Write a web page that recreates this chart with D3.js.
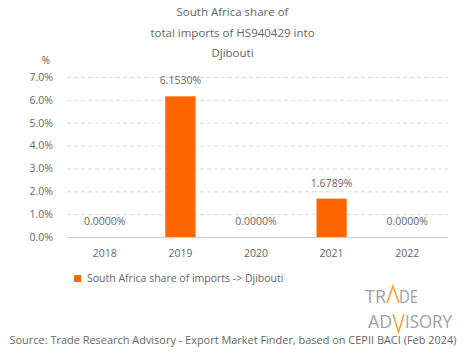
<!DOCTYPE html>
<html><head><meta charset="utf-8">
<script src="https://cdn.jsdelivr.net/npm/d3@7"></script>
<style>body{margin:0;background:#fff}svg{display:block}text{font-family:"Open Sans",sans-serif}</style>
</head><body><svg id="c" width="465" height="359"></svg>
<script>
const years = ["2018","2019","2020","2021","2022"];
const shares = [0, 6.1530, 0, 1.6789, 0];
const yTicks = [0,1,2,3,4,5,6,7];
const titleLines = ["South Africa share of","total imports of HS940429 into","Djibouti"];
const legendLabel = "South Africa share of imports -> Djibouti";
const sourceText = "Source: Trade Research Advisory - Export Market Finder, based on CEPII BACI (Feb 2024)";

const svg = d3.select("#c");
const orange = "#ff6600", txt = "#666";
const x = d3.scaleBand().domain(years).range([67,445]).paddingInner(0.6).paddingOuter(0.3);
const y = d3.scaleLinear().domain([0,7]).range([237,77]);

svg.selectAll(".t").data(titleLines).join("text")
  .attr("x",232.5).attr("y",(d,i)=>16+i*20.5).attr("text-anchor","middle")
  .attr("font-size",11.5).attr("fill",txt).text(d=>d);

svg.append("text").attr("x",46).attr("y",64).attr("text-anchor","middle").attr("font-size",10).attr("fill","#555").text("%");

const ya = svg.append("g").attr("transform","translate(67,0)")
  .call(d3.axisLeft(y).tickValues(yTicks).tickSize(-381).tickFormat(d=>d.toFixed(1)+"%"));
ya.select(".domain").remove();
ya.selectAll(".tick line").attr("stroke","#d9d9d9").attr("stroke-dasharray","4,3").filter(d=>d===0).attr("stroke","#ccc").attr("stroke-dasharray",null);
ya.selectAll(".tick text").attr("x",-14).attr("font-size",10.5).attr("fill",txt).attr("font-family","Open Sans");

const xa = svg.append("g").attr("transform","translate(0,237)").call(d3.axisBottom(x).tickSize(0).tickPadding(13));
xa.select(".domain").remove();
xa.selectAll(".tick text").attr("font-size",10.5).attr("fill",txt).attr("font-family","Open Sans");

svg.selectAll(".bar").data(years).join("rect")
  .attr("x",d=>x(d)).attr("width",x.bandwidth())
  .attr("y",(d,i)=>y(shares[i])).attr("height",(d,i)=>y(0)-y(shares[i])).attr("fill",orange);

svg.selectAll(".lbl").data(years).join("text")
  .attr("x",d=>x(d)+x.bandwidth()/2).attr("y",(d,i)=>y(shares[i])-12)
  .attr("text-anchor","middle").attr("font-size",10.5).attr("fill",txt)
  .text((d,i)=>shares[i].toFixed(4)+"%");

svg.append("rect").attr("x",74).attr("y",275).attr("width",7).attr("height",7).attr("fill",orange);
svg.append("text").attr("x",87).attr("y",282).attr("font-size",10.5).attr("fill",txt).text(legendLabel);

// logo
const lg = svg.append("g").attr("fill","#a0a0a0").attr("font-size",18).attr("font-family","Liberation Sans Narrow, Liberation Sans, sans-serif");
lg.append("text").attr("x",365).attr("y",303).attr("textLength",21).attr("lengthAdjust","spacingAndGlyphs").text("TR");
lg.append("text").attr("x",399).attr("y",303).attr("textLength",19).attr("lengthAdjust","spacingAndGlyphs").text("DE");
lg.append("text").attr("x",368).attr("y",328).attr("textLength",24).attr("lengthAdjust","spacingAndGlyphs").text("AD");
lg.append("text").attr("x",405).attr("y",328).attr("textLength",47).attr("lengthAdjust","spacingAndGlyphs").text("ISORY");
svg.append("path").attr("d","M387,303 L393,286 L399,303").attr("fill","none").attr("stroke","#f5a623").attr("stroke-width",1.6);
svg.append("path").attr("d","M393,314 L398.5,332 L404,314").attr("fill","none").attr("stroke","#f5a623").attr("stroke-width",1.6);

svg.append("text").attr("x",233).attr("y",344).attr("text-anchor","middle").attr("font-size",11)
  .attr("textLength",447).attr("lengthAdjust","spacingAndGlyphs").attr("fill",txt).text(sourceText);
</script></body></html>
